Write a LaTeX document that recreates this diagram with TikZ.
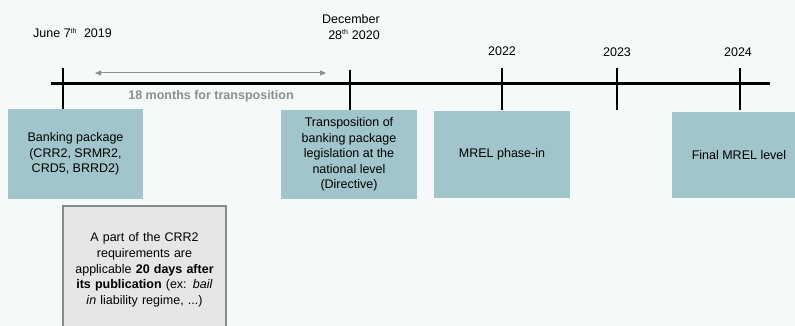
\documentclass[tikz,border=0pt]{standalone}
\usepackage{fontspec}
\setmainfont{Liberation Sans}
\usepackage{xcolor}
\usetikzlibrary{arrows.meta,positioning,calc}
\definecolor{paper}   {HTML}{F5F9FA}
\definecolor{teal}    {HTML}{A0C5CA}
\definecolor{noteBg}  {HTML}{E6E6E6}
\definecolor{noteLn}  {HTML}{8A8A8A}
\definecolor{spanGr}  {HTML}{8E8E8E}
\newcommand{\ordth}{\textsuperscript{\fontsize{7}{7}\selectfont th}}

\begin{document}
\begin{tikzpicture}[x=1pt, y=-1pt,
   phase/.style={rectangle, fill=teal, inner sep=0pt, minimum height=89pt,
                 align=center, font=\fontsize{12.5}{15.5}\selectfont},
   note/.style={rectangle, draw=noteLn, fill=noteBg, line width=1.4pt, inner sep=0pt,
                minimum width=163pt, minimum height=128pt, text width=150pt,
                align=center, font=\fontsize{12.5}{15.7}\selectfont},
   datelab/.style={inner sep=0pt, font=\fontsize{12.5}{15.5}\selectfont},
   axis/.style={draw=black, line width=3pt},
   tick/.style={draw=black, line width=2.5pt},
   span/.style={draw=spanGr, line width=1pt,
                {Triangle[length=6pt,width=5pt]}-{Triangle[length=6pt,width=5pt]}}
]
\useasboundingbox[fill=paper] (0,0) rectangle (795,326);

% time axis
\coordinate (t0) at (51,84);
\coordinate (t1) at (770,84);
\draw[axis] (t0) -- (t1);
\foreach \n/\x/\top/\bot in {a/63/68/109, b/350/70/110, c/502/68/110, d/617/68/110, e/740/68/110}{
  \coordinate (\n top) at (\x,\top);
  \coordinate (\n bot) at (\x,\bot);
  \draw[tick] (\n top) -- (\n bot);
}

% dates
\node[datelab, anchor=west] (d2019) at (33,33) {June 7\ordth\ \ 2019};
\node[datelab, anchor=east, align=right] (d2020) at (380,27) {December\\28\ordth\ 2020};
\node[datelab] (d2022) at (502,51) {2022};
\node[datelab] (d2023) at (617,52) {2023};
\node[datelab] (d2024) at (738,52) {2024};

% transposition span
\coordinate (s0) at (95,73);
\coordinate (s1) at (326,73);
\draw[span] (s0) -- (s1);
\node[datelab, text=spanGr, font=\fontsize{12.5}{15}\selectfont\bfseries] (months) at (211,96) {18 months for transposition};

% phases
\node[phase, minimum width=135pt] (pkg) at (75.5,154) {Banking package\\(CRR2, SRMR2,\\CRD5, BRRD2)};
\node[phase, minimum width=136pt] (trans) at (349,154.5) {Transposition of\\banking package\\legislation at the\\national level\\(Directive)};
\node[phase, minimum width=136pt, minimum height=87pt] (phasein) at (502,154.5) {MREL phase-in};
\node[phase, minimum width=134pt, minimum height=86pt] (final) at (739,155) {Final MREL level};

% note
\node[note] (crr) at (144.5,270) {A part of the CRR2\\requirements are\\applicable \textbf{20 days after}\\\textbf{its publication} (ex: \textit{bail}\\\textit{in} liability regime, ...)};
\end{tikzpicture}
\end{document}
